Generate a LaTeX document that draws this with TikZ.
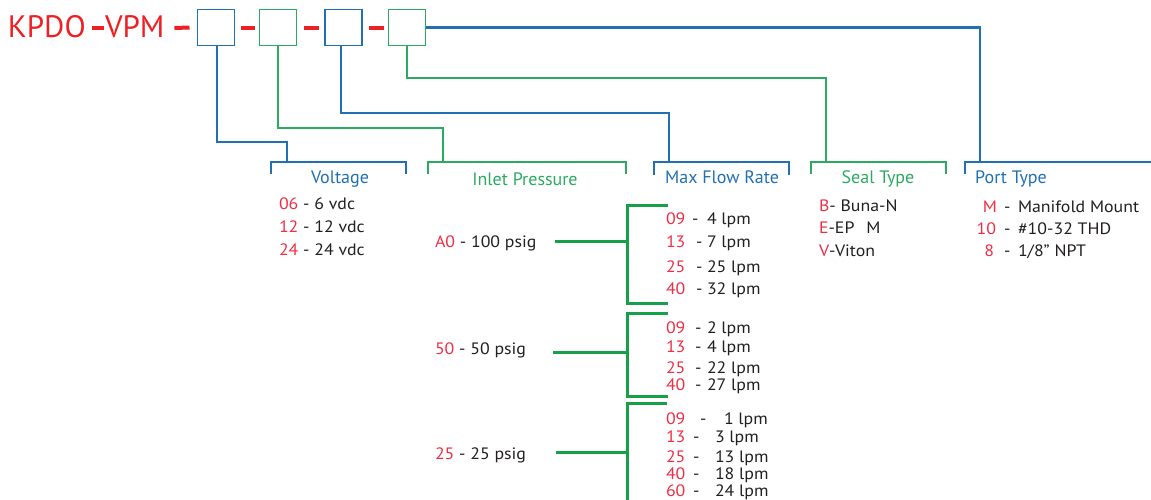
\documentclass[tikz,border=0pt]{standalone}
\usepackage{fontspec}
\setmainfont{PT Sans}
\newfontfamily\listfont[FakeStretch=1.08]{PT Sans}
\definecolor{tred}{HTML}{ED2124}
\definecolor{cred}{HTML}{EE2F45}
\definecolor{myblue}{HTML}{2170B2}
\definecolor{mygreen}{HTML}{2BAA62}
\definecolor{fgreen}{HTML}{17A04A}
\definecolor{txtc}{HTML}{231F20}
\newcommand\flowrow[6]{%
  \node[code,anchor=base west] (#1c) at (666,#2) {#5};
  \node[txt,anchor=base west] (#1d) at (#3,#2) {-};
  \node[txt,anchor=base west] (#1v) at (#4,#2) {#6};}
\begin{document}
\begin{tikzpicture}[x=1pt,y=-1pt,
  every node/.style={inner sep=0pt,outer sep=0pt},
  codebox/.style={draw,line width=1.8pt,minimum width=37pt,minimum height=36pt},
  bline/.style={draw=myblue,line width=2.4pt},
  gline/.style={draw=mygreen,line width=2.4pt},
  fline/.style={draw=fgreen,line width=3pt},
  rdash/.style={draw=tred,line width=4pt},
  head/.style={font=\fontsize{18}{20}\selectfont,anchor=base},
  txt/.style={font=\listfont\fontsize{16.5}{18}\selectfont,text=txtc},
  code/.style={font=\listfont\fontsize{16.5}{18}\selectfont,text=cred}]
\useasboundingbox (0,0) rectangle (1151,499);
% title
\node[font=\fontsize{31}{34}\selectfont,text=tred,anchor=base west] (kpdo) at (8,37) {KPDO};
\node[font=\fontsize{31}{34}\selectfont,text=tred,anchor=base west] (vpm) at (105,37) {VPM};
% boxes
\node[codebox,draw=myblue] (b1) at (216,27.5) {};
\node[codebox,draw=mygreen] (b2) at (278,27.5) {};
\node[codebox,draw=myblue] (b3) at (343.5,27.5) {};
\node[codebox,draw=mygreen] (b4) at (407,27.5) {};
% red dashes
\coordinate (d0a) at (92,28); \coordinate (d0b) at (104,28);
\draw[rdash] (d0a) -- (d0b);
\draw[rdash] ([xshift=10pt]vpm.east |- 0,28) -- ([xshift=-8pt]b1.west);
\draw[rdash] ([xshift=6pt]b1.east) -- ([xshift=-5pt]b2.west);
\draw[rdash] ([xshift=7pt]b2.east) -- ([xshift=-6pt]b3.west);
\draw[rdash] ([xshift=7pt]b3.east) -- ([xshift=-5pt]b4.west);
% bracket tops (connection points)
\coordinate (vt) at (287,162);
\coordinate (it) at (443,162);
\coordinate (mt) at (669,162);
\coordinate (st) at (826,162);
\coordinate (pt) at (980,162);
% connectors
\draw[bline] (b1.south -| 217,0) -- (217,142) -| (vt);
\draw[gline] (b2.south) -- (278,128) -| (it);
\draw[bline] (b3.south -| 341,0) -- (341,113) -| (mt);
\draw[gline] (b4.south) -- (407,78) -| (st);
\draw[bline] (b4.east) -| (pt);
% brackets
\draw[bline] (271,174) -- (271,162) -- (406,162) -- (406,174);
\draw[gline] (428,174) -- (428,162) -- (626,162) -- (626,174);
\draw[bline] (654,175) -- (654,162) -- (789,162) -- (789,175);
\draw[gline] (811,174) -- (811,162) -- (946,162) -- (946,174);
\draw[bline] (965,174) -- (965,162) -- (1152,162);
% headings
\node[head,text=myblue] (hv) at (340,183) {Voltage};
\node[head,text=mygreen] (hi) at (525,185) {Inlet Pressure};
\node[head,text=myblue] (hm) at (722,183) {Max Flow Rate};
\node[head,text=mygreen] (hs) at (878,183) {Seal Type};
\node[head,text=myblue] (hp) at (1011,183) {Port Type};
% voltage
\node[txt,anchor=base west] (v1) at (279,209.5) {\textcolor{cred}{06} - 6 vdc};
\node[txt,anchor=base west] (v2) at (279,232.5) {\textcolor{cred}{12} - 12 vdc};
\node[txt,anchor=base west] (v3) at (279,255) {\textcolor{cred}{24} - 24 vdc};
% inlet pressure
\node[txt,anchor=base west] (pa) at (435,247) {\textcolor{cred}{A0} - 100 psig};
\node[txt,anchor=base west] (pb) at (435,354) {\textcolor{cred}{50} - 50 psig};
\node[txt,anchor=base west] (pc) at (435,459) {\textcolor{cred}{25} - 25 psig};
% flow brackets
\coordinate (s1) at (555,241); \coordinate (g1) at (627,241);
\coordinate (s2) at (553,352); \coordinate (g2) at (627,352);
\coordinate (s3) at (556,452); \coordinate (g3) at (627,452);
\draw[fline] (668,205) -- (627,205) -- (627,303) -- (668,303);
\draw[fline] (s1) -- (g1);
\draw[fline] (668,313) -- (627,313) -- (627,396) -- (668,396);
\draw[fline] (s2) -- (g2);
\draw[fline] (667,403) -- (627,403) -- (627,502);
\draw[fline] (s3) -- (g3);
% flow rows
\flowrow{fa1}{224}{692}{707}{09}{4 lpm}
\flowrow{fa2}{247}{696}{707}{13}{7 lpm}
\flowrow{fa3}{272}{696}{707}{25}{25 lpm}
\flowrow{fa4}{294.5}{696}{707}{40}{32 lpm}
\flowrow{fb1}{333}{695}{707}{09}{2 lpm}
\flowrow{fb2}{352}{695}{707}{13}{4 lpm}
\flowrow{fb3}{373}{695}{707}{25}{22 lpm}
\flowrow{fb4}{390}{695}{707}{40}{27 lpm}
\flowrow{fc1}{424}{700}{724}{09}{1 lpm}
\flowrow{fc2}{442}{693}{715}{13}{3 lpm}
\flowrow{fc3}{462}{693}{715}{25}{13 lpm}
\flowrow{fc4}{479}{693}{715}{40}{18 lpm}
\flowrow{fc5}{496}{693}{715}{60}{24 lpm}
% seal type
\node[txt,anchor=base west] (sb) at (819,211) {\textcolor{cred}{B}- Buna-N};
\node[txt,anchor=base west] (se) at (819,233) {\textcolor{cred}{E}-EP\hspace{12pt}M};
\node[txt,anchor=base west] (sv) at (819,256) {\textcolor{cred}{V}-Viton};
% port type
\node[code,anchor=base east] (pm) at (997,212) {M};
\node[code,anchor=base east] (p10) at (996,234) {10};
\node[code,anchor=base east] (p8) at (994,256) {8};
\node[txt,anchor=base west] (pmd) at (1004,212) {-};
\node[txt,anchor=base west] (p10d) at (1004,234) {-};
\node[txt,anchor=base west] (p8d) at (1004,256) {-};
\node[txt,anchor=base west] (pmt) at (1018,212) {Manifold Mount};
\node[txt,anchor=base west] (p10t) at (1018,234) {\#10-32 THD};
\node[txt,anchor=base west] (p8t) at (1018,256) {1/8” NPT};
\end{tikzpicture}
\end{document}
